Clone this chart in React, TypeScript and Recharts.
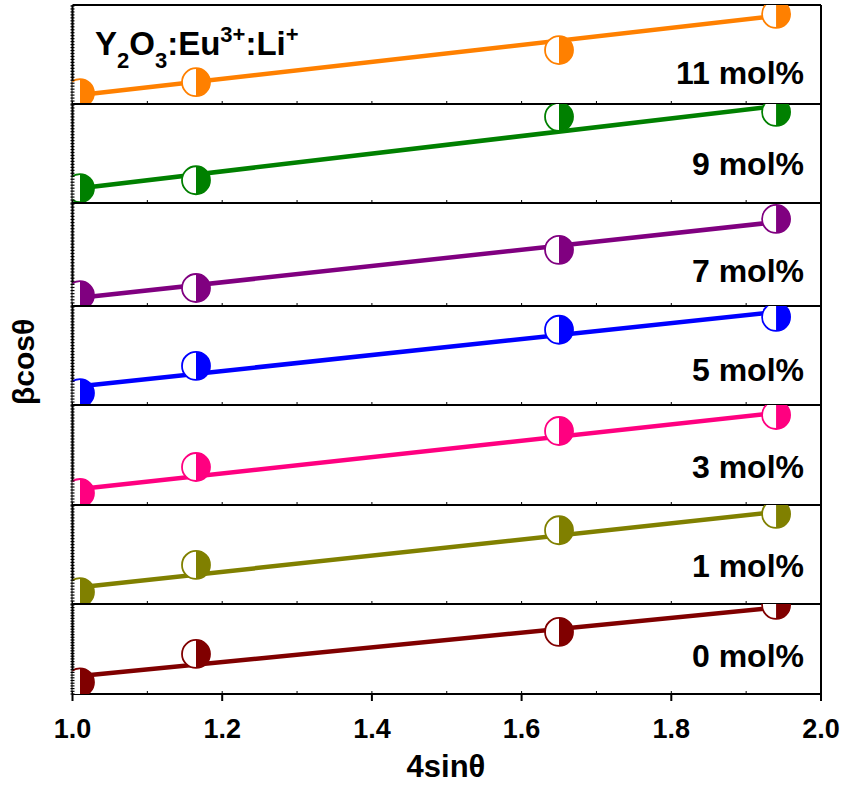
import React from 'react';
import { LineChart, Line, XAxis, YAxis } from 'recharts';

// 4sinθ positions of the four reflections
const xPoints = [1.01, 1.165, 1.65, 1.94];
const xFitEnds = [1.01, 1.94];

const dopingLabels = ['11 mol%', '9 mol%', '7 mol%', '5 mol%', '3 mol%', '1 mol%', '0 mol%'];

// βcosθ per sample, in each panel's own units (panels are offset, no y scale shown)
const beta11 = [11, 22, 54.5, 91];
const beta9 = [15, 23, 87, 92];
const beta7 = [10.5, 17.5, 54.5, 84.5];
const beta5 = [12, 39.5, 76, 89];
const beta3 = [12, 38, 74, 90];
const beta1 = [12, 39.5, 74.5, 91];
const beta0 = [13, 44.5, 69, 99];

// linear fit values at the first and last point
const fit11 = [9, 89];
const fit9 = [15, 98];
const fit7 = [8, 81.5];
const fit5 = [19, 94];
const fit3 = [16, 92];
const fit1 = [17, 93];
const fit0 = [20, 96];

const xTicks = [1.0, 1.1, 1.2, 1.3, 1.4, 1.5, 1.6, 1.7, 1.8, 1.9, 2.0];
const xTickLabels = ['1.0', '1.2', '1.4', '1.6', '1.8', '2.0'];

const series = [beta11, beta9, beta7, beta5, beta3, beta1, beta0];
const fits = [fit11, fit9, fit7, fit5, fit3, fit1, fit0];

const colors = ['#FF8000', '#008000', '#800080', '#0000FF', '#FF0080', '#808000', '#800000'];
const panelTops = [5, 104, 203, 306, 405, 505, 604];
const plotBottom = 694;
const labelCenters = [72, 163, 270, 369, 466, 565, 655];

const W = 843;
const H = 786;
const LEFT = 72.5;
const RIGHT = 821;
const FONT = '"Liberation Sans", Arial, Helvetica, sans-serif';

const yFrameTicks = Array.from({ length: 34 }, (_, i) => i * 3);

// half-filled circle: open left half, solid right half
const HalfDot = (props: any) => {
  const { cx, cy, color, index } = props;
  if (cx == null || cy == null) return null;
  const r = 14;
  return (
    <g key={`d${index}`}>
      <circle cx={cx} cy={cy} r={r} fill="#fff" stroke={color} strokeWidth={1.8} />
      <path d={`M${cx},${cy - r} A${r},${r} 0 0 1 ${cx},${cy + r} Z`} fill={color} />
    </g>
  );
};

const BottomTick = (props: any) => {
  const { x, y, payload, labeled } = props;
  const v = payload.value;
  const label = labeled ? xTickLabels.find((t) => Math.abs(parseFloat(t) - v) < 1e-6) : undefined;
  return (
    <g>
      <line x1={x} x2={x} y1={y} y2={y - 3} stroke="#000" strokeWidth={1} />
      {label && <line x1={x} x2={x} y1={y} y2={y + 7} stroke="#000" strokeWidth={2} />}
      {label && (
        <text x={x} y={y + 44} textAnchor="middle" fontSize={27} fontWeight="bold" fontFamily={FONT} fill="#000">
          {label}
        </text>
      )}
    </g>
  );
};

const TopTick = (props: any) => {
  const { x, y } = props;
  return <line x1={x} x2={x} y1={y} y2={y + 3} stroke="#000" strokeWidth={1} />;
};

const SideTick = (props: any) => {
  const { x, y } = props;
  return <line x1={x - 2} x2={x + 2} y1={y} y2={y} stroke="#000" strokeWidth={1.2} />;
};

function Panel({ idx }: { idx: number }) {
  const top = panelTops[idx];
  const bottom = idx < panelTops.length - 1 ? panelTops[idx + 1] : plotBottom;
  const h = bottom - top;
  const color = colors[idx];
  const points = xPoints.map((x, i) => ({ x, y: series[idx][i] }));
  const fit = xFitEnds.map((x, i) => ({ x, y: fits[idx][i] }));
  const isLast = idx === panelTops.length - 1;

  // 1px axis bands above and below so the plot area spans exactly top..bottom
  return (
    <div style={{ position: 'absolute', left: 0, top: top - 1 }}>
      <LineChart width={W} height={h + 2} margin={{ top: 0, right: W - RIGHT - 1, bottom: 0, left: LEFT - 1 }}>
        <XAxis
          xAxisId="b"
          type="number"
          dataKey="x"
          domain={[1, 2]}
          ticks={xTicks}
          interval={0}
          allowDataOverflow
          height={1}
          tickSize={0}
          tickMargin={0}
          tickLine={false}
          axisLine={{ stroke: '#000', strokeWidth: 2 }}
          tick={<BottomTick labeled={isLast} />}
        />
        <XAxis
          xAxisId="t"
          orientation="top"
          type="number"
          dataKey="x"
          domain={[1, 2]}
          ticks={xTicks}
          interval={0}
          height={1}
          tickSize={0}
          tickMargin={0}
          tickLine={false}
          axisLine={{ stroke: '#000', strokeWidth: 2 }}
          tick={<TopTick />}
        />
        <YAxis
          yAxisId="l"
          type="number"
          domain={[0, 100]}
          allowDataOverflow
          width={1}
          ticks={yFrameTicks}
          interval={0}
          tickSize={0}
          tickMargin={0}
          tickLine={false}
          axisLine={{ stroke: '#000', strokeWidth: 2 }}
          tick={<SideTick />}
        />
        <YAxis
          yAxisId="r"
          orientation="right"
          type="number"
          domain={[0, 100]}
          width={1}
          ticks={yFrameTicks}
          interval={0}
          tickSize={0}
          tickMargin={0}
          tickLine={false}
          axisLine={{ stroke: '#000', strokeWidth: 2 }}
          tick={<SideTick />}
        />
        <Line
          xAxisId="b"
          yAxisId="l"
          data={points}
          dataKey="y"
          stroke="none"
          strokeWidth={0}
          dot={(p: any) => <HalfDot key={`d${p.index}`} {...p} color={color} />}
          activeDot={false}
          isAnimationActive={false}
        />
        <Line
          xAxisId="b"
          yAxisId="l"
          data={fit}
          dataKey="y"
          stroke={color}
          strokeWidth={4.5}
          dot={false}
          activeDot={false}
          isAnimationActive={false}
        />
      </LineChart>
    </div>
  );
}

export default function App() {
  return (
    <div style={{ position: 'absolute', left: 0, top: 0, width: W, height: H, background: '#fff', fontFamily: FONT }}>
      <style>{'.recharts-surface{overflow:visible}'}</style>
      {panelTops.map((_, i) => (
        <Panel key={i} idx={i} />
      ))}
      <svg
        width={W}
        height={H}
        style={{ position: 'absolute', left: 0, top: 0, pointerEvents: 'none', overflow: 'visible' }}
        fontFamily={FONT}
        fontWeight="bold"
      >
        <text x={95} y={55} fontSize={33} fill="#000">
          Y<tspan fontSize={22} dy={13}>2</tspan>
          <tspan dy={-13}>O</tspan>
          <tspan fontSize={22} dy={13}>3</tspan>
          <tspan dy={-13}>:Eu</tspan>
          <tspan fontSize={22} dy={-13}>3+</tspan>
          <tspan dy={13}>:Li</tspan>
          <tspan fontSize={22} dy={-13}>+</tspan>
        </text>
        {dopingLabels.map((lab, i) => (
          <text key={lab} x={804} y={labelCenters[i] + 11.5} textAnchor="end" fontSize={32} fill="#000">
            {lab}
          </text>
        ))}
        <text transform="translate(34,362) rotate(-90)" textAnchor="middle" fontSize={30} fill="#000">
          βcosθ
        </text>
        <text x={446} y={777} textAnchor="middle" fontSize={31} fill="#000">
          4sinθ
        </text>
      </svg>
    </div>
  );
}
